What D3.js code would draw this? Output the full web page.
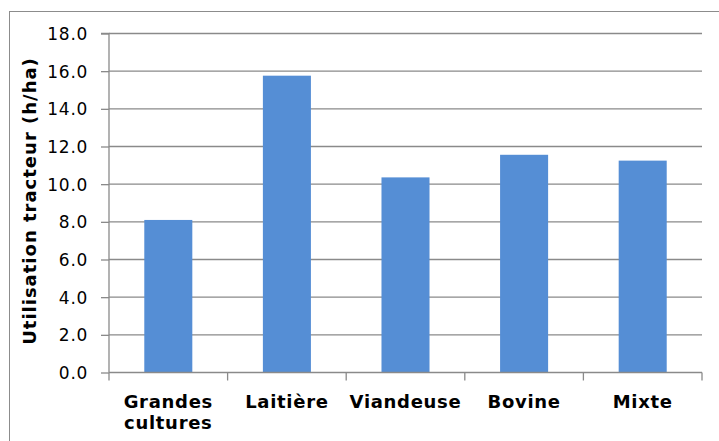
<!DOCTYPE html>
<html>
<head>
<meta charset="utf-8">
<script src="https://cdn.jsdelivr.net/npm/d3@7"></script>
<style>
  html, body { margin: 0; padding: 0; background: #fff; }
  svg { display: block; }
  text { font-family: "DejaVu Sans", Verdana, sans-serif; fill: #000; }
</style>
</head>
<body>
<svg id="chart" width="719" height="441"></svg>
<script>
const categories = [["Grandes", "cultures"], ["Laitière"], ["Viandeuse"], ["Bovine"], ["Mixte"]];
const values = [8.1, 15.76, 10.36, 11.56, 11.25];
const yTicks = [0, 2, 4, 6, 8, 10, 12, 14, 16, 18];
const yTitle = "Utilisation tracteur (h/ha)";

const svg = d3.select("#chart");
const pL = 109, pR = 702, pT = 33.5, pB = 372.5;
const keys = categories.map(c => c.join(" "));

const x = d3.scaleBand().domain(keys).range([pL, pR]).padding(0);
const y = d3.scaleLinear().domain([0, 18]).range([pB, pT]);

// outer border
svg.append("rect")
  .attr("x", 9.5).attr("y", 11.5)
  .attr("width", 760).attr("height", 500)
  .attr("fill", "none").attr("stroke", "#8c8c8c").attr("stroke-width", 1);

// gridlines
svg.append("g").selectAll("line").data(yTicks.filter(d => d > 0)).join("line")
  .attr("x1", pL).attr("x2", pR)
  .attr("y1", d => y(d)).attr("y2", d => y(d))
  .attr("stroke", "#8a8a8a").attr("stroke-width", 1.3);

// bars
const bw = x.bandwidth() * 0.405;
svg.append("g").selectAll("rect").data(values).join("rect")
  .attr("x", (d, i) => x(keys[i]) + (x.bandwidth() - bw) / 2)
  .attr("width", bw)
  .attr("y", d => y(d))
  .attr("height", d => y(0) - y(d))
  .attr("fill", "#558ed5");

// y axis
const yAxis = d3.axisLeft(y).tickValues(yTicks).tickFormat(d3.format(".1f")).tickSize(8).tickPadding(13);
const gy = svg.append("g").attr("transform", `translate(${pL},0)`).call(yAxis);
gy.select(".domain").attr("stroke", "#8a8a8a").attr("stroke-width", 1.3).attr("d", `M-8,${pT}H0V${pB}`);
gy.selectAll(".tick line").attr("stroke", "#8a8a8a").attr("stroke-width", 1.3);
gy.selectAll(".tick text")
  .style("font-family", '"DejaVu Sans", Verdana, sans-serif')
  .style("font-size", "17px").style("letter-spacing", "0.7px").attr("fill", "#000")
  .attr("dy", "0.36em");

// x axis
const xAxis = d3.axisBottom(x).tickSize(0).tickFormat("");
const gx = svg.append("g").attr("transform", `translate(0,${pB})`).call(xAxis);
gx.select(".domain").attr("stroke", "#8a8a8a").attr("stroke-width", 1.3).attr("d", `M${pL},0H${pR}`);
// boundary ticks
const bounds = keys.map(k => x(k)).concat([pR]);
gx.append("g").selectAll("line").data(bounds).join("line")
  .attr("x1", d => d).attr("x2", d => d).attr("y1", 0).attr("y2", 8)
  .attr("stroke", "#8a8a8a").attr("stroke-width", 1.3);

// category labels
const lab = svg.append("g").selectAll("text").data(categories).join("text")
  .attr("text-anchor", "middle")
  .attr("transform", (d, i) => `translate(${x(keys[i]) + x.bandwidth() / 2},408)`)
  .style("font-size", "18px").style("font-weight", "bold").style("letter-spacing", "0.7px");
lab.selectAll("tspan").data(d => d).join("tspan")
  .attr("x", 0).attr("dy", (d, i) => i === 0 ? 0 : 21).text(d => d);

// y title
svg.append("text")
  .attr("transform", `translate(36,${(pT + pB) / 2 - 2}) rotate(-90)`)
  .attr("text-anchor", "middle")
  .style("font-size", "18px").style("font-weight", "bold").style("letter-spacing", "1px")
  .text(yTitle);
</script>
</body>
</html>
